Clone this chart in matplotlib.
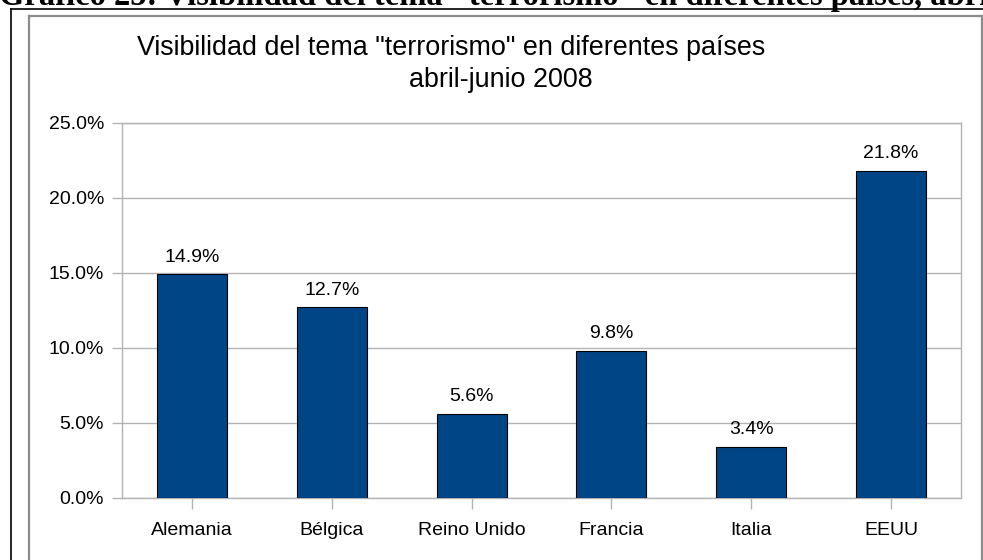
import numpy as np
import matplotlib
matplotlib.use("Agg")
import matplotlib.pyplot as plt
from matplotlib.lines import Line2D

# Chart data
paises = ["Alemania", "Bélgica", "Reino Unido", "Francia", "Italia", "EEUU"]
visibilidad = [14.9, 12.7, 5.6, 9.8, 3.4, 21.8]
y_ticks = [0, 5, 10, 15, 20, 25]

titulo_1 = 'Visibilidad del tema "terrorismo" en diferentes países'
titulo_2 = "abril-junio 2008"
encabezado = 'Gráfico 25: Visibilidad del tema "terrorismo" en diferentes países, abril-junio 2008'

W, H = 983, 560
plt.rcParams['font.family'] = ['Liberation Sans', 'DejaVu Sans']

fig = plt.figure(figsize=(W / 100, H / 100), dpi=100)
fig.patch.set_facecolor('white')

# document heading, cut by the top edge as in the source page
fig.text(-1 / W, 1 - 5 / H, encabezado, family='Liberation Serif', weight='bold',
         fontsize=23.5, ha='left', va='baseline', color='black')

# outer black frame and inner gray chart frame
fig.add_artist(Line2D([11 / W, 11 / W], [1 - 9 / H, -0.1], color='black', lw=1.2))
fig.add_artist(Line2D([11 / W, 1.1], [1 - 9 / H, 1 - 9 / H], color='black', lw=1.2))
for xs, ys in [([28.5 / W, 28.5 / W], [1 - 15.5 / H, -0.1]),
               ([28.5 / W, 982 / W], [1 - 15.5 / H, 1 - 15.5 / H]),
               ([982 / W, 982 / W], [1 - 15.5 / H, -0.1])]:
    fig.add_artist(Line2D(xs, ys, color='#8c8c8c', lw=1.6))

ax = fig.add_axes([122 / W, 1 - 498 / H, (961 - 122) / W, (498 - 122.7) / H])

x = np.arange(len(paises))
bars = ax.bar(x, visibilidad, width=0.5, color='#004586', edgecolor='black', linewidth=0.8, zorder=3)

for xi, v in zip(x, visibilidad):
    ax.text(xi, v + 0.85, f"{v:.1f}%", ha='center', va='baseline', fontsize=14, color='black')

ax.set_xlim(-0.5, len(paises) - 0.5)
ax.set_ylim(0, 25)
ax.set_yticks(y_ticks)
ax.set_yticklabels([f"{t:.1f}%" for t in y_ticks])
ax.set_xticks(x)
ax.set_xticklabels(paises)

grid_c = '#b3b3b3'
ax.yaxis.grid(True, color=grid_c, lw=1.0, zorder=0)
for s in ax.spines.values():
    s.set_color(grid_c)
    s.set_linewidth(1.0)
ax.tick_params(axis='y', length=7, color=grid_c, width=1.0, pad=6, labelsize=14)
ax.tick_params(axis='x', length=8, color=grid_c, width=1.0, pad=9, labelsize=14)

fig.text(451 / W, 1 - 55 / H, titulo_1, ha='center', va='baseline', fontsize=19.4)
fig.text(501 / W, 1 - 87 / H, titulo_2, ha='center', va='baseline', fontsize=19.4)

fig.savefig("out.png", dpi=100)
